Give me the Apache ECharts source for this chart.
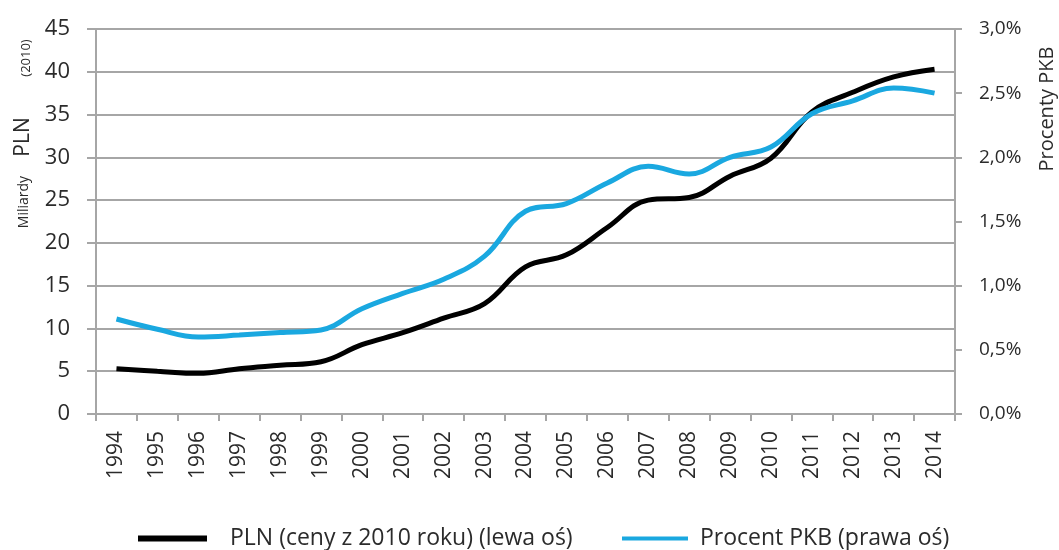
<!DOCTYPE html>
<html>
<head>
<meta charset="utf-8">
<script src="https://cdn.jsdelivr.net/npm/echarts@6/dist/echarts.min.js"></script>
<style>
html,body{margin:0;padding:0;background:#fff;}
#chart{width:1059px;height:550px;}
</style>
</head>
<body>
<div id="chart"></div>
<script>
const years = ['1994','1995','1996','1997','1998','1999','2000','2001','2002','2003','2004','2005','2006','2007','2008','2009','2010','2011','2012','2013','2014'];
const plnValues = [5.3, 5.0, 4.75, 5.3, 5.7, 6.1, 8.1, 9.5, 11.2, 12.9, 17.2, 18.6, 21.8, 25.0, 25.3, 27.8, 29.9, 35.3, 37.6, 39.4, 40.3];
const pkbPercent = [0.74, 0.66, 0.60, 0.615, 0.635, 0.655, 0.82, 0.94, 1.05, 1.23, 1.58, 1.64, 1.80, 1.93, 1.87, 2.00, 2.08, 2.34, 2.44, 2.54, 2.50];
const leftTicks = {min: 0, max: 45, interval: 5};
const rightTicks = {min: 0, max: 3, interval: 0.5};

const FONT = 'Open Sans';
const GRAY = '#a6a6a6';
const TXT = '#2b2b2b';

const chart = echarts.init(document.getElementById('chart'));
chart.setOption({
  animation: false,
  backgroundColor: '#fff',
  textStyle: {fontFamily: FONT},
  grid: {left: 96, right: 104, top: 29, bottom: 136, containLabel: false},
  legend: [
    {
      data: [{name: 'PLN (ceny z 2010 roku) (lewa oś)', icon: 'rect'}],
      left: 133, top: 522, itemWidth: 69, itemHeight: 6,
      textStyle: {fontFamily: FONT, fontSize: 23, color: TXT, padding: [0, 0, 0, 18]}
    },
    {
      data: [{name: 'Procent PKB (prawa oś)', icon: 'rect'}],
      left: 617, top: 522, itemWidth: 66, itemHeight: 4,
      textStyle: {fontFamily: FONT, fontSize: 23, color: TXT, padding: [0, 0, 0, 7]}
    }
  ],
  xAxis: {
    type: 'category',
    data: years,
    boundaryGap: true,
    axisLine: {show: true, lineStyle: {color: GRAY, width: 2}},
    axisTick: {show: true, interval: 0, length: 7, lineStyle: {color: GRAY, width: 2}},
    axisLabel: {interval: 0, rotate: 90, margin: 17, fontSize: 21, color: TXT, fontFamily: FONT},
    splitLine: {show: false}
  },
  yAxis: [
    {
      type: 'value',
      position: 'left',
      min: leftTicks.min, max: leftTicks.max, interval: leftTicks.interval,
      axisLine: {show: true, lineStyle: {color: GRAY, width: 2}},
      axisTick: {show: true, length: 9, lineStyle: {color: GRAY, width: 2}},
      axisLabel: {margin: 26, fontSize: 22, color: TXT, fontFamily: FONT},
      splitLine: {show: true, lineStyle: {color: GRAY, width: 2}}
    },
    {
      type: 'value',
      position: 'right',
      min: rightTicks.min, max: rightTicks.max, interval: rightTicks.interval,
      axisLine: {show: true, lineStyle: {color: GRAY, width: 2}},
      axisTick: {show: true, length: 7, lineStyle: {color: GRAY, width: 2}},
      axisLabel: {margin: 24, fontSize: 19, color: TXT, fontFamily: FONT,
        formatter: v => v.toFixed(1).replace('.', ',') + '%'},
      splitLine: {show: false}
    }
  ],
  graphic: [
    {type: 'text', x: 24, y: 202, rotation: Math.PI / 2,
      style: {text: 'Miliardy', fontFamily: FONT, fontSize: 14, fill: TXT, align: 'center', verticalAlign: 'middle'}},
    {type: 'text', x: 23, y: 137, rotation: Math.PI / 2,
      style: {text: 'PLN', fontFamily: FONT, fontSize: 21, fill: TXT, align: 'center', verticalAlign: 'middle'}},
    {type: 'text', x: 26, y: 58, rotation: Math.PI / 2,
      style: {text: '(2010)', fontFamily: FONT, fontSize: 13, fill: TXT, align: 'center', verticalAlign: 'middle'}},
    {type: 'text', x: 1047, y: 109, rotation: Math.PI / 2,
      style: {text: 'Procenty PKB', fontFamily: FONT, fontSize: 20, fill: TXT, align: 'center', verticalAlign: 'middle'}}
  ],
  series: [
    {
      name: 'PLN (ceny z 2010 roku) (lewa oś)',
      type: 'line',
      yAxisIndex: 0,
      data: plnValues,
      smooth: 0.4,
      showSymbol: false,
      symbol: 'none',
      itemStyle: {color: '#000000'},
      lineStyle: {color: '#000000', width: 5}
    },
    {
      name: 'Procent PKB (prawa oś)',
      type: 'line',
      yAxisIndex: 1,
      data: pkbPercent,
      smooth: 0.4,
      showSymbol: false,
      symbol: 'none',
      itemStyle: {color: '#1aa8e0'},
      lineStyle: {color: '#1aa8e0', width: 5}
    }
  ]
});
</script>
</body>
</html>
